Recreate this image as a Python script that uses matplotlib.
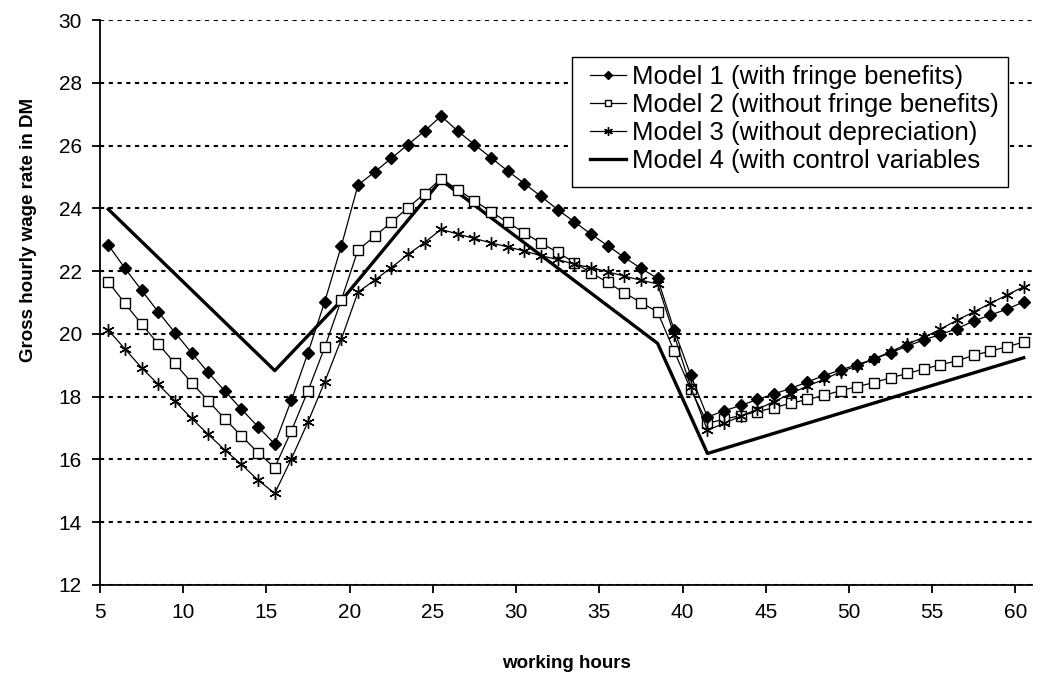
import numpy as np
import matplotlib
matplotlib.use('Agg')
import matplotlib.pyplot as plt
from matplotlib.patches import Rectangle

plt.rcParams['font.family'] = ['Liberation Sans', 'DejaVu Sans']

# working hours (class midpoints)
hours = np.arange(5.5, 61.0, 1.0)

model1 = [22.83, 22.09, 21.39, 20.70, 20.04, 19.40, 18.77, 18.18, 17.60, 17.04,
          16.49, 17.89, 19.40, 21.02, 22.80, 24.74, 25.16, 25.59, 26.03, 26.46,
          26.94, 26.46, 26.03, 25.61, 25.19, 24.79, 24.38, 23.96, 23.57, 23.18,
          22.81, 22.44, 22.09, 21.77, 20.12, 18.68, 17.35, 17.55, 17.72, 17.91,
          18.09, 18.26, 18.47, 18.67, 18.85, 19.02, 19.20, 19.40, 19.61, 19.81,
          19.98, 20.17, 20.41, 20.60, 20.79, 21.02]
model2 = [21.66, 20.97, 20.31, 19.68, 19.06, 18.45, 17.87, 17.29, 16.75, 16.21,
          15.74, 16.91, 18.19, 19.57, 21.08, 22.67, 23.11, 23.55, 24.02, 24.47,
          24.95, 24.60, 24.24, 23.89, 23.55, 23.22, 22.89, 22.60, 22.27, 21.95,
          21.64, 21.31, 21.00, 20.70, 19.45, 18.23, 17.15, 17.28, 17.40, 17.52,
          17.65, 17.79, 17.91, 18.04, 18.19, 18.32, 18.45, 18.60, 18.74, 18.88,
          19.02, 19.14, 19.32, 19.45, 19.59, 19.74]
model3 = [20.12, 19.52, 18.92, 18.39, 17.86, 17.31, 16.80, 16.30, 15.84, 15.34,
          14.92, 16.02, 17.20, 18.47, 19.83, 21.33, 21.71, 22.11, 22.53, 22.91,
          23.33, 23.18, 23.04, 22.90, 22.77, 22.64, 22.49, 22.37, 22.22, 22.11,
          21.98, 21.84, 21.71, 21.59, 19.96, 18.30, 16.93, 17.15, 17.38, 17.60,
          17.84, 18.10, 18.34, 18.55, 18.79, 18.98, 19.20, 19.43, 19.68, 19.89,
          20.15, 20.44, 20.70, 20.97, 21.24, 21.50]
# model 4 only has its kink points
hours4 = [5.5, 15.5, 19.5, 25.5, 38.5, 41.5, 60.5]
model4 = [23.97, 18.83, 21.06, 24.90, 19.70, 16.19, 19.24]

labels = ['Model 1 (with fringe benefits)',
          'Model 2 (without fringe benefits)',
          'Model 3 (without depreciation)',
          'Model 4 (with control variables']

W, H = 1040, 679
fig = plt.figure(figsize=(W / 100, H / 100), dpi=100)
ax = fig.add_axes([100 / W, 1 - 585 / H, 932 / W, 565 / H])

ax.plot(hours, model1, color='black', lw=0.9, marker='D', ms=6,
        mfc='black', mec='black', label=labels[0], zorder=4)
ax.plot(hours, model2, color='black', lw=0.9, marker='s', ms=7,
        mfc='white', mec='black', mew=1.0, label=labels[1], zorder=3)
ax.plot(hours, model3, color='black', lw=0.9, marker=(6, 2, 0), ms=9,
        mec='black', mew=1.0, label=labels[2], zorder=3)
ax.plot(hours4, model4, color='black', lw=2.4, label=labels[3], zorder=2)

ax.set_xlim(5, 61)
ax.set_ylim(12, 30)
ax.set_xticks(range(5, 61, 5))
ax.set_yticks(range(12, 31, 2))
ax.yaxis.grid(True, color='black', linestyle=(0, (2, 2.2)), lw=1.5)
ax.set_axisbelow(True)

for s in ['top', 'right']:
    ax.spines[s].set_visible(False)
for s in ['left', 'bottom']:
    ax.spines[s].set_linewidth(1.3)
ax.tick_params(direction='out', length=6, width=1.3, labelsize=15, pad=7)

ax.set_xlabel('working hours', fontsize=13.5, fontweight='bold', labelpad=24)
ax.set_ylabel('Gross hourly wage rate in DM', fontsize=13.5, fontweight='bold')
ax.yaxis.set_label_coords((37 - 100) / 932, (585 - 230) / 565)

# legend box, drawn as its own rectangle
ax.add_patch(Rectangle((572 / W, 1 - 187 / H), 436 / W, 130 / H,
                       transform=fig.transFigure, facecolor='white',
                       edgecolor='black', lw=1.0, clip_on=False, zorder=4.9))
leg = ax.legend(loc='upper left', bbox_to_anchor=(590 / W, 1 - 65 / H),
                bbox_transform=fig.transFigure, borderaxespad=0, borderpad=0,
                fontsize=18.5, frameon=False, handlelength=1.4,
                handletextpad=0.25, labelspacing=0.15, markerscale=0.7)
leg.set_zorder(5)

fig.savefig('out.png', dpi=100)
